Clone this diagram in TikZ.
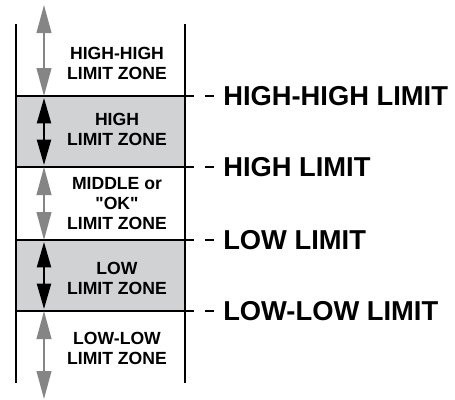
\documentclass[tikz,border=0pt]{standalone}
\usepackage{fontspec}
\setmainfont{Liberation Sans}
\usetikzlibrary{arrows.meta}

\definecolor{zonegray}{HTML}{D1D2D4}
\definecolor{arrowgray}{HTML}{858585}

\tikzset{
  zonetext/.style={font=\bfseries\fontsize{13.2}{15}\selectfont, align=center, inner sep=0pt},
  limittext/.style={font=\bfseries\fontsize{20.5}{24}\selectfont, anchor=west, inner sep=0pt},
  grayarrow/.style={arrowgray, line width=1.5pt,
    {Triangle[length=21pt,width=11pt]}-{Triangle[length=21pt,width=11pt]}},
  blackarrow/.style={black, line width=1.5pt,
    {Triangle[length=19pt,width=10.5pt]}-{Triangle[length=19pt,width=10.5pt]}},
  limitline/.style={line width=1.1pt},
  limitext/.style={line width=1.1pt, dash pattern=on 6.75pt off 8.25pt}
}

\begin{document}
\begin{tikzpicture}[x=0.75pt,y=-0.75pt]
\useasboundingbox (0,0) rectangle (455,400);

% shaded zones
\fill[zonegray] (16,96) rectangle (185,167);
\fill[zonegray] (16,240) rectangle (185,311);

% walls
\draw[line width=1.4pt] (16,24) -- (16,383);
\draw[line width=1.4pt] (185,24) -- (185,383);

% limit lines with their labels
\foreach \y/\name/\txt in {96/hh/HIGH-HIGH LIMIT, 167/h/HIGH LIMIT,
                           240/l/LOW LIMIT, 311/ll/LOW-LOW LIMIT}{
  \node[limittext] (\name) at (223,\y) {\txt};
  \draw[limitline] (16,\y) -- (185,\y);
  \draw[limitext] (185,\y) -- ([xshift=-6.75pt]\name.west);
}

% zone arrows
\draw[grayarrow] (44,5) -- (44,96);
\draw[blackarrow] (44,98) -- (44,165);
\draw[grayarrow] (44,167) -- (44,240);
\draw[blackarrow] (44,242) -- (44,309);
\draw[grayarrow] (44,311) -- (44,399);

% zone names
\node[zonetext] (zhh) at (117,63.5) {HIGH-HIGH\\LIMIT ZONE};
\node[zonetext] (zh) at (117,129) {HIGH\\LIMIT ZONE};
\node[zonetext] (zok) at (117,203.5) {MIDDLE or\\\textquotedbl OK\textquotedbl\\LIMIT ZONE};
\node[zonetext] (zl) at (117,278.5) {LOW\\LIMIT ZONE};
\node[zonetext] (zll) at (117,348) {LOW-LOW\\LIMIT ZONE};
\end{tikzpicture}
\end{document}
